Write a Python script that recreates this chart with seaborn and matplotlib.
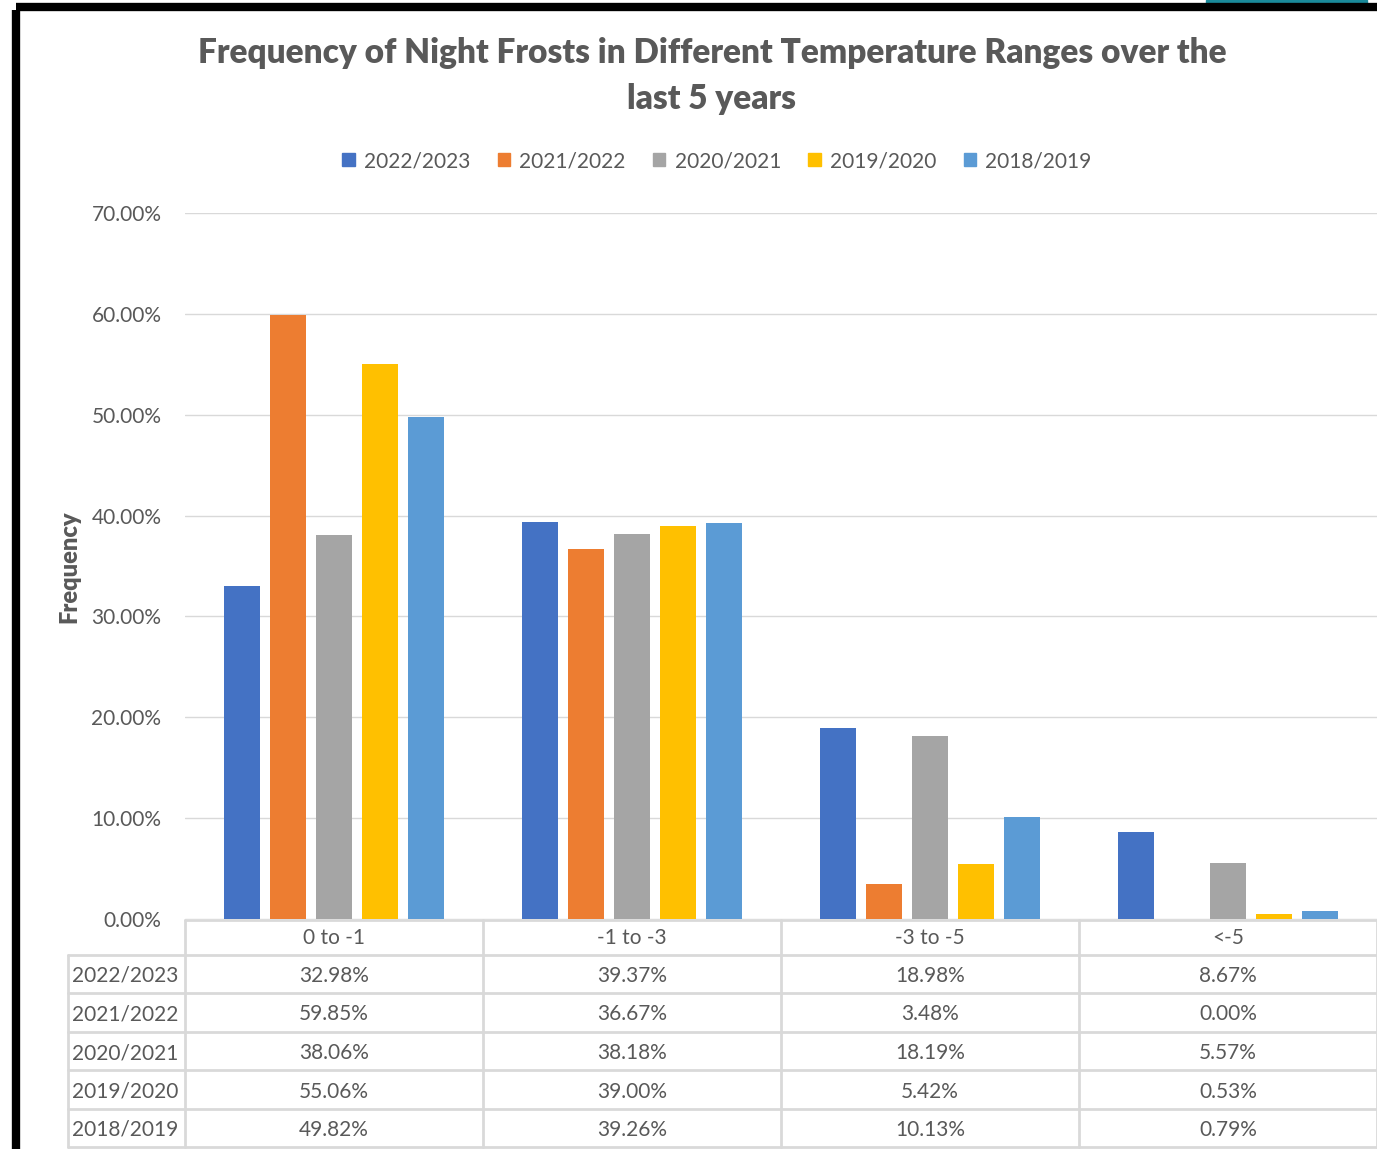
import pandas as pd
import matplotlib.pyplot as plt
import seaborn as sns
from matplotlib.ticker import PercentFormatter
from matplotlib.transforms import blended_transform_factory
from matplotlib.lines import Line2D
from matplotlib.patches import Rectangle

# Data
ranges = ['0 to -1', '-1 to -3', '-3 to -5', '<-5']
seasons = ['2022/2023', '2021/2022', '2020/2021', '2019/2020', '2018/2019']
freq_2022_2023 = [0.3298, 0.3937, 0.1898, 0.0867]
freq_2021_2022 = [0.5985, 0.3667, 0.0348, 0.0000]
freq_2020_2021 = [0.3806, 0.3818, 0.1819, 0.0557]
freq_2019_2020 = [0.5506, 0.3900, 0.0542, 0.0053]
freq_2018_2019 = [0.4982, 0.3926, 0.1013, 0.0079]
colors = ['#4472C4', '#ED7D31', '#A5A5A5', '#FFC000', '#5B9BD5']

series = [freq_2022_2023, freq_2021_2022, freq_2020_2021, freq_2019_2020, freq_2018_2019]
rows = []
for season, vals in zip(seasons, series):
    for r, v in zip(ranges, vals):
        rows.append({'Range': r, 'Season': season, 'Frequency': v})
df = pd.DataFrame(rows)

sns.set_style('white')
plt.rcParams['font.family'] = ['Lato', 'DejaVu Sans']
text_color = '#595959'
grid_color = '#D9D9D9'

W, H = 1377, 1149
fig = plt.figure(figsize=(W / 100, H / 100), dpi=100)

def fx(px):
    return px / W

def fy(py):
    return 1 - py / H

ax = fig.add_axes([fx(185), fy(919), fx(1377) - fx(185), fy(213) - fy(919)])
sns.barplot(data=df, x='Range', y='Frequency', hue='Season', hue_order=seasons,
            order=ranges, palette=colors, width=0.77, gap=0.22, saturation=1,
            linewidth=0, legend=False, ax=ax)

ax.set_xlim(-0.5, 3.5)
ax.set_ylim(0, 0.7)
ax.set_yticks([i / 10 for i in range(8)])
ax.yaxis.set_major_formatter(PercentFormatter(1.0, decimals=2))
ax.tick_params(axis='y', labelsize=15, labelcolor=text_color, length=0, pad=17)
ax.set_xticks([])
ax.set_xlabel('')
ax.set_ylabel('')
ax.grid(axis='y', color=grid_color, linewidth=1)
ax.set_axisbelow(True)
for s in ax.spines.values():
    s.set_visible(False)

fig.text(fx(69), fy(567), 'Frequency', rotation=90, ha='center', va='center',
         fontsize=17, fontweight='heavy', color=text_color)

fig.text(fx(712), fy(53), 'Frequency of Night Frosts in Different Temperature Ranges over the',
         ha='center', va='center', fontsize=24, fontweight='heavy', color=text_color)
fig.text(fx(712), fy(99), 'last 5 years', ha='center', va='center',
         fontsize=24, fontweight='heavy', color=text_color)

# legend
handles = [Rectangle((0, 0), 1, 1, color=c) for c in colors]
fig.legend(handles, seasons, loc='center', bbox_to_anchor=(fx(717), fy(161)), ncol=5,
           frameon=False, fontsize=15, labelcolor=text_color, handlelength=0.6,
           handleheight=0.6, handletextpad=0.45, columnspacing=1.3)

# data table under the axis
tr = blended_transform_factory(ax.transData, fig.transFigure)
row_tops = [920, 955, 993, 1032, 1070, 1109, 1147]
lkw = dict(color=grid_color, linewidth=2)
fig.add_artist(Line2D([-0.5, 3.5], [fy(920), fy(920)], transform=tr, **lkw))
for y in row_tops[1:]:
    fig.add_artist(Line2D([fx(68), fx(1377)], [fy(y), fy(y)], transform=fig.transFigure, **lkw))
for xb in [-0.5, 0.5, 1.5, 2.5, 3.5]:
    fig.add_artist(Line2D([xb, xb], [fy(920), fy(1147)], transform=tr, **lkw))
fig.add_artist(Line2D([fx(68), fx(68)], [fy(955), fy(1147)], transform=fig.transFigure, **lkw))

for i, r in enumerate(ranges):
    fig.text(i, fy(938), r, transform=tr, ha='center', va='center',
             fontsize=15, color=text_color)
for j, (season, vals) in enumerate(zip(seasons, series)):
    yc = fy((row_tops[j + 1] + row_tops[j + 2]) / 2 + 2)
    fig.text(fx(72), yc, season, ha='left', va='center', fontsize=15, color=text_color)
    for i, v in enumerate(vals):
        fig.text(i, yc, f'{v * 100:.2f}%', transform=tr, ha='center', va='center',
                 fontsize=15, color=text_color)

# black frame on the left and top, teal tab at top right
fig.add_artist(Line2D([fx(16), fx(16)], [fy(1149), fy(10)], transform=fig.transFigure,
                      color='black', linewidth=6, solid_capstyle='butt'))
fig.add_artist(Line2D([fx(16), fx(1377)], [fy(7), fy(7)], transform=fig.transFigure,
                      color='black', linewidth=6, solid_capstyle='butt'))
fig.add_artist(Rectangle((fx(1206), fy(3)), fx(1367) - fx(1206), fy(0) - fy(3),
                         transform=fig.transFigure, color='#1A8A9A'))

plt.savefig('out.png', dpi=100)
